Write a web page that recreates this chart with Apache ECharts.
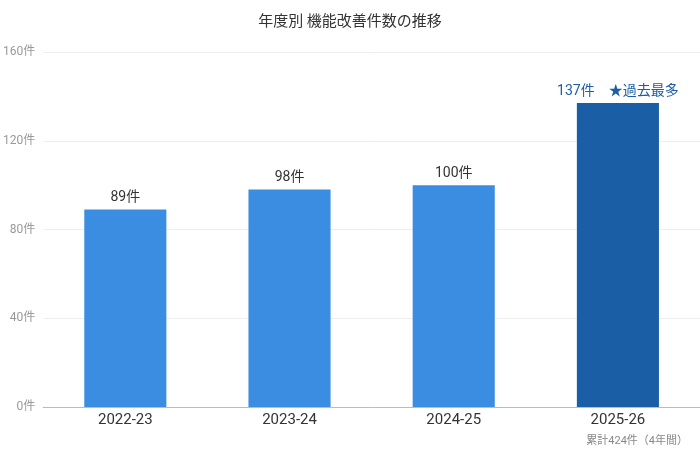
<!DOCTYPE html>
<html><head><meta charset="utf-8">
<script src="https://cdn.jsdelivr.net/npm/echarts@6/dist/echarts.min.js"></script>
<style>html,body{margin:0;padding:0;background:#fff}#c{width:700px;height:461px}</style>
</head><body><div id="c"></div>
<script>
const categories = ['2022-23','2023-24','2024-25','2025-26'];
const values = [89, 98, 100, 137];
const yTicks = [0, 40, 80, 120, 160];
const chart = echarts.init(document.getElementById('c'));
const font = 'Roboto, "Noto Sans CJK JP", sans-serif';
chart.setOption({
  textStyle:{fontFamily:font},
  title:{text:'年度別 機能改善件数の推移', left:'center', top:8, textStyle:{fontSize:15, fontWeight:'normal', color:'#333', fontFamily:'"Noto Sans CJK JP", sans-serif'}},
  graphic:[{type:'text', right:12, top:436, style:{text:'累計424件（4年間）', fill:'#888', fontSize:11, fontFamily:font}}],
  grid:{left:38, right:0, top:52, bottom:54},
  xAxis:{type:'category', data:categories, axisTick:{show:false},
    axisLine:{lineStyle:{color:'#bbb'}}, axisLabel:{color:'#333', fontSize:15, margin:6}},
  yAxis:{type:'value', min:yTicks[0], max:yTicks[yTicks.length-1], interval:40,
    axisLabel:{formatter:'{value}件', color:'#999', fontSize:12},
    splitLine:{lineStyle:{color:'#eee'}}},
  series:[{type:'bar', barWidth:'50%',
    data: values.map((v,i)=>({value:v, itemStyle:{color: i===values.length-1 ? '#1a5fa6' : '#3a8de0'},
      label: i===values.length-1 ? {formatter:'{c}件　★過去最多', color:'#1a5fa6'} : {}})),
    label:{show:true, position:'top', formatter:'{c}件', color:'#333', fontSize:14, distance:5}
  }]
});
</script></body></html>
